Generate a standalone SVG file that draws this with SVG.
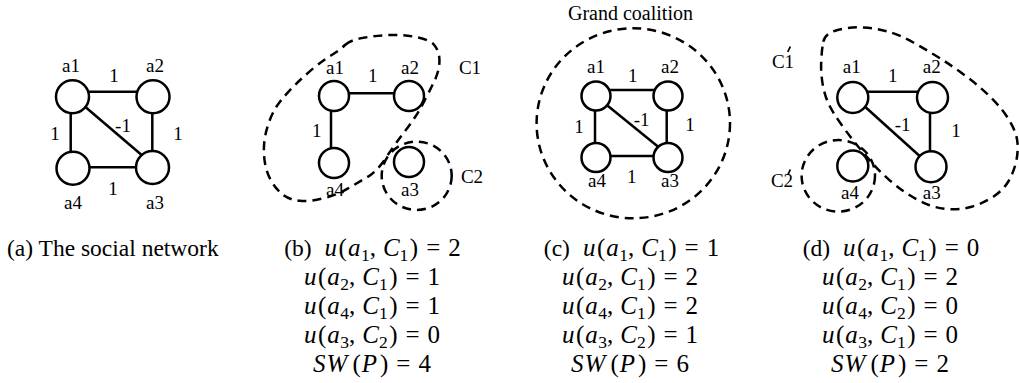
<svg xmlns="http://www.w3.org/2000/svg" width="1019" height="383" viewBox="0 0 1019 383">
<style>
.lbl{font-family:"Liberation Serif","Times New Roman",serif;font-size:19px;text-anchor:middle;fill:#000}
.cap{font-family:"Liberation Serif","Times New Roman",serif;font-size:23.5px;fill:#000}
.m{text-anchor:middle;font-size:25px}
.r{font-size:23.5px}
.i{font-style:italic}
.s{font-size:17.5px}
.node{fill:#fff;stroke:#000;stroke-width:2.5}
.edge{stroke:#000;stroke-width:2.5;fill:none}
.coal{fill:none;stroke:#000;stroke-width:2.5;stroke-dasharray:9 6}
.tick{stroke:#000;stroke-width:1.8;fill:none}
</style>
<rect width="1019" height="383" fill="#fff"/>

<!-- connectors -->
<g id="connectors">
  <!-- (a) -->
  <line class="edge" x1="72.5" y1="91.7" x2="153" y2="91.7"/>
  <line class="edge" x1="70.7" y1="96.7" x2="70.7" y2="168"/>
  <line class="edge" x1="152.3" y1="96.7" x2="152.3" y2="167.5"/>
  <line class="edge" x1="73" y1="167.3" x2="152.5" y2="167.3"/>
  <line class="edge" x1="72.5" y1="96" x2="152.5" y2="164.2"/>
  <!-- (b) -->
  <line class="edge" x1="334" y1="93.3" x2="409" y2="93.3"/>
  <line class="edge" x1="331" y1="96" x2="331" y2="163"/>
  <!-- (c) -->
  <line class="edge" x1="596" y1="90" x2="668" y2="90"/>
  <line class="edge" x1="595" y1="96" x2="595" y2="157.5"/>
  <line class="edge" x1="666.7" y1="96" x2="666.7" y2="157.5"/>
  <line class="edge" x1="596" y1="156" x2="668" y2="156"/>
  <line class="edge" x1="596" y1="96.3" x2="668" y2="154.8"/>
  <!-- (d) -->
  <line class="edge" x1="852.8" y1="91.7" x2="932.5" y2="91.7"/>
  <line class="edge" x1="930" y1="97.5" x2="930" y2="166.7"/>
  <line class="edge" x1="852.8" y1="95.7" x2="931" y2="166.2"/>
</g>

<!-- edge weight labels -->
<g id="weights" class="lbl">
  <text x="114" y="82">1</text>
  <text x="55" y="140">1</text>
  <text x="123" y="132">-1</text>
  <text x="178" y="140">1</text>
  <text x="113" y="195">1</text>

  <text x="372.7" y="82">1</text>
  <text x="316.7" y="137">1</text>

  <text x="632.7" y="82">1</text>
  <text x="579" y="133">1</text>
  <text x="641.7" y="126">-1</text>
  <text x="690" y="131">1</text>
  <text x="631.7" y="183.3">1</text>

  <text x="892.7" y="82">1</text>
  <text x="902.7" y="131">-1</text>
  <text x="956" y="137">1</text>
</g>

<!-- panel (a) nodes -->
<g id="a-a1"><circle class="node" cx="72.5" cy="96.7" r="16.5"/><text class="lbl" x="71" y="72">a1</text></g>
<g id="a-a2"><circle class="node" cx="153" cy="96.7" r="16.5"/><text class="lbl" x="155" y="72">a2</text></g>
<g id="a-a4"><circle class="node" cx="73" cy="168.3" r="16.5"/><text class="lbl" x="73" y="209">a4</text></g>
<g id="a-a3"><circle class="node" cx="152.5" cy="167.5" r="16.5"/><text class="lbl" x="155" y="209">a3</text></g>

<!-- panel (b) nodes -->
<g id="b-a1"><circle class="node" cx="334" cy="96" r="15"/><text class="lbl" x="335" y="74">a1</text></g>
<g id="b-a2"><circle class="node" cx="409" cy="96" r="15"/><text class="lbl" x="410" y="74">a2</text></g>
<g id="b-a4"><circle class="node" cx="334" cy="163" r="15"/><text class="lbl" x="335" y="196">a4</text></g>
<g id="b-a3"><circle class="node" cx="409" cy="162" r="15"/><text class="lbl" x="410" y="196">a3</text></g>

<!-- panel (c) nodes -->
<g id="c-a1"><circle class="node" cx="596" cy="96" r="14.5"/><text class="lbl" x="596" y="73">a1</text></g>
<g id="c-a2"><circle class="node" cx="668" cy="96" r="14.5"/><text class="lbl" x="670" y="73">a2</text></g>
<g id="c-a4"><circle class="node" cx="596" cy="157.5" r="14.5"/><text class="lbl" x="597" y="187">a4</text></g>
<g id="c-a3"><circle class="node" cx="668" cy="157.5" r="14.5"/><text class="lbl" x="670" y="187">a3</text></g>

<!-- panel (d) nodes -->
<g id="d-a1"><circle class="node" cx="852.8" cy="97.5" r="15.5"/><text class="lbl" x="851.7" y="73">a1</text></g>
<g id="d-a2"><circle class="node" cx="932.5" cy="97.5" r="15.5"/><text class="lbl" x="931.7" y="73">a2</text></g>
<g id="d-a4"><circle class="node" cx="852.8" cy="166" r="15.5"/><text class="lbl" x="850" y="198.5">a4</text></g>
<g id="d-a3"><circle class="node" cx="931" cy="166.7" r="15.5"/><text class="lbl" x="931.7" y="198.5">a3</text></g>

<!-- coalitions -->
<g id="coalitions">
  <path class="coal" d="M345,45 Q350,40 365,37.5 Q380,35 393.3,35 Q406.7,35 418.3,37.5 Q430,40 434.2,45 Q438.3,50 439.2,56.7 Q440,63.3 438.3,70 Q436.7,76.7 433.3,83.3 Q430,90 425.8,98.3 Q421.7,106.7 417.5,113.3 Q413.3,120 408.3,126.7 Q403.3,133.3 398.3,140 Q393.3,146.7 385,159.2 Q376.7,171.7 366.7,177.5 Q356.7,183.3 346.7,189.2 Q336.7,195 323.3,198.3 Q310,201.7 300,200.8 Q290,200 283.3,195 Q276.7,190 271.7,181.7 Q266.7,173.3 265,163.3 Q263.3,153.3 264.2,143.3 Q265,133.3 269.2,121.7 Q273.3,110 280,101.7 Q286.7,93.3 295,85 Q303.3,76.7 313.3,68.3 Q323.3,60 331.7,55 Q340,50 345,45 Z"/>
  <ellipse class="coal" cx="416.7" cy="175.8" rx="35" ry="34.2"/>
  <text class="lbl" x="470" y="74">C1</text>
  <text class="lbl" x="472" y="183">C2</text>

  <ellipse class="coal" cx="633.3" cy="123.3" rx="96.7" ry="95"/>
  <text class="lbl" x="630.5" y="19.5" style="font-size:20px">Grand coalition</text>

  <path class="coal" d="M823.3,41.7 Q825,33.3 837.5,30 Q850,26.7 863.3,27.5 Q876.7,28.3 888.3,31.7 Q900,35 913.3,42.5 Q926.7,50 940,58.3 Q953.3,66.7 966.7,76.7 Q980,86.7 991.7,98.3 Q1003.3,110 1010,121.5 Q1016.7,133 1017.5,143 Q1018.3,153 1015.8,163 Q1013.3,173 1008.3,181.5 Q1003.3,190 993.3,196.7 Q983.3,203.3 971.7,206.7 Q960,210 948.3,209.2 Q936.7,208.3 926.7,204.2 Q916.7,200 906.7,193.3 Q896.7,186.7 887.5,178.3 Q878.3,170 872.5,163.3 Q866.7,156.7 858.3,146.7 Q850,136.7 841.7,125 Q833.3,113.3 829.2,105 Q825,96.7 822.8,85 Q820.7,73.3 821.2,61.7 Q821.7,50 823.3,41.7 Z"/>
  <ellipse class="coal" cx="838.3" cy="175.8" rx="36.7" ry="35.8"/>
  <text class="lbl" x="783" y="68">C1</text>
  <text class="lbl" x="782" y="187">C2</text>
  <line class="tick" x1="787.8" y1="52" x2="790.3" y2="46.5"/>
  <line class="tick" x1="787.8" y1="175" x2="790.3" y2="169.5"/>
</g>

<!-- captions -->
<g id="captions" class="cap">
  <text x="7" y="256">(a) The social network</text>

  <text class="m" x="372.5" y="256"><tspan class="r">(b)</tspan><tspan class="i" dx="13">u</tspan><tspan dx="1.5">(</tspan><tspan class="i" dx="1">a</tspan><tspan class="s" dx="0.5" dy="5">1</tspan><tspan dy="-5">,</tspan><tspan class="i" dx="7">C</tspan><tspan class="s" dy="5">1</tspan><tspan dx="1.5" dy="-5">)</tspan><tspan dx="8">=</tspan><tspan dx="8">2</tspan></text>
  <text class="m" x="372" y="285"><tspan class="i">u</tspan><tspan dx="1.5">(</tspan><tspan class="i" dx="1">a</tspan><tspan class="s" dx="0.5" dy="5">2</tspan><tspan dy="-5">,</tspan><tspan class="i" dx="7">C</tspan><tspan class="s" dy="5">1</tspan><tspan dx="1.5" dy="-5">)</tspan><tspan dx="8">=</tspan><tspan dx="8">1</tspan></text>
  <text class="m" x="372" y="314"><tspan class="i">u</tspan><tspan dx="1.5">(</tspan><tspan class="i" dx="1">a</tspan><tspan class="s" dx="0.5" dy="5">4</tspan><tspan dy="-5">,</tspan><tspan class="i" dx="7">C</tspan><tspan class="s" dy="5">1</tspan><tspan dx="1.5" dy="-5">)</tspan><tspan dx="8">=</tspan><tspan dx="8">1</tspan></text>
  <text class="m" x="372" y="343"><tspan class="i">u</tspan><tspan dx="1.5">(</tspan><tspan class="i" dx="1">a</tspan><tspan class="s" dx="0.5" dy="5">3</tspan><tspan dy="-5">,</tspan><tspan class="i" dx="7">C</tspan><tspan class="s" dy="5">2</tspan><tspan dx="1.5" dy="-5">)</tspan><tspan dx="8">=</tspan><tspan dx="8">0</tspan></text>
  <text class="m" x="372" y="372"><tspan class="i">S</tspan><tspan class="i" dx="1">W</tspan><tspan dx="5">(</tspan><tspan class="i" dx="1">P</tspan><tspan dx="3">)</tspan><tspan dx="8">=</tspan><tspan dx="8">4</tspan></text>

  <text class="m" x="631.5" y="256"><tspan class="r">(c)</tspan><tspan class="i" dx="13">u</tspan><tspan dx="1.5">(</tspan><tspan class="i" dx="1">a</tspan><tspan class="s" dx="0.5" dy="5">1</tspan><tspan dy="-5">,</tspan><tspan class="i" dx="7">C</tspan><tspan class="s" dy="5">1</tspan><tspan dx="1.5" dy="-5">)</tspan><tspan dx="8">=</tspan><tspan dx="8">1</tspan></text>
  <text class="m" x="630" y="285"><tspan class="i">u</tspan><tspan dx="1.5">(</tspan><tspan class="i" dx="1">a</tspan><tspan class="s" dx="0.5" dy="5">2</tspan><tspan dy="-5">,</tspan><tspan class="i" dx="7">C</tspan><tspan class="s" dy="5">1</tspan><tspan dx="1.5" dy="-5">)</tspan><tspan dx="8">=</tspan><tspan dx="8">2</tspan></text>
  <text class="m" x="630" y="314"><tspan class="i">u</tspan><tspan dx="1.5">(</tspan><tspan class="i" dx="1">a</tspan><tspan class="s" dx="0.5" dy="5">4</tspan><tspan dy="-5">,</tspan><tspan class="i" dx="7">C</tspan><tspan class="s" dy="5">1</tspan><tspan dx="1.5" dy="-5">)</tspan><tspan dx="8">=</tspan><tspan dx="8">2</tspan></text>
  <text class="m" x="630" y="343"><tspan class="i">u</tspan><tspan dx="1.5">(</tspan><tspan class="i" dx="1">a</tspan><tspan class="s" dx="0.5" dy="5">3</tspan><tspan dy="-5">,</tspan><tspan class="i" dx="7">C</tspan><tspan class="s" dy="5">2</tspan><tspan dx="1.5" dy="-5">)</tspan><tspan dx="8">=</tspan><tspan dx="8">1</tspan></text>
  <text class="m" x="630" y="372"><tspan class="i">S</tspan><tspan class="i" dx="1">W</tspan><tspan dx="5">(</tspan><tspan class="i" dx="1">P</tspan><tspan dx="3">)</tspan><tspan dx="8">=</tspan><tspan dx="8">6</tspan></text>

  <text class="m" x="891" y="256"><tspan class="r">(d)</tspan><tspan class="i" dx="13">u</tspan><tspan dx="1.5">(</tspan><tspan class="i" dx="1">a</tspan><tspan class="s" dx="0.5" dy="5">1</tspan><tspan dy="-5">,</tspan><tspan class="i" dx="7">C</tspan><tspan class="s" dy="5">1</tspan><tspan dx="1.5" dy="-5">)</tspan><tspan dx="8">=</tspan><tspan dx="8">0</tspan></text>
  <text class="m" x="890" y="285"><tspan class="i">u</tspan><tspan dx="1.5">(</tspan><tspan class="i" dx="1">a</tspan><tspan class="s" dx="0.5" dy="5">2</tspan><tspan dy="-5">,</tspan><tspan class="i" dx="7">C</tspan><tspan class="s" dy="5">1</tspan><tspan dx="1.5" dy="-5">)</tspan><tspan dx="8">=</tspan><tspan dx="8">2</tspan></text>
  <text class="m" x="890" y="314"><tspan class="i">u</tspan><tspan dx="1.5">(</tspan><tspan class="i" dx="1">a</tspan><tspan class="s" dx="0.5" dy="5">4</tspan><tspan dy="-5">,</tspan><tspan class="i" dx="7">C</tspan><tspan class="s" dy="5">2</tspan><tspan dx="1.5" dy="-5">)</tspan><tspan dx="8">=</tspan><tspan dx="8">0</tspan></text>
  <text class="m" x="890" y="343"><tspan class="i">u</tspan><tspan dx="1.5">(</tspan><tspan class="i" dx="1">a</tspan><tspan class="s" dx="0.5" dy="5">3</tspan><tspan dy="-5">,</tspan><tspan class="i" dx="7">C</tspan><tspan class="s" dy="5">1</tspan><tspan dx="1.5" dy="-5">)</tspan><tspan dx="8">=</tspan><tspan dx="8">0</tspan></text>
  <text class="m" x="890" y="372"><tspan class="i">S</tspan><tspan class="i" dx="1">W</tspan><tspan dx="5">(</tspan><tspan class="i" dx="1">P</tspan><tspan dx="3">)</tspan><tspan dx="8">=</tspan><tspan dx="8">2</tspan></text>
</g>
</svg>
